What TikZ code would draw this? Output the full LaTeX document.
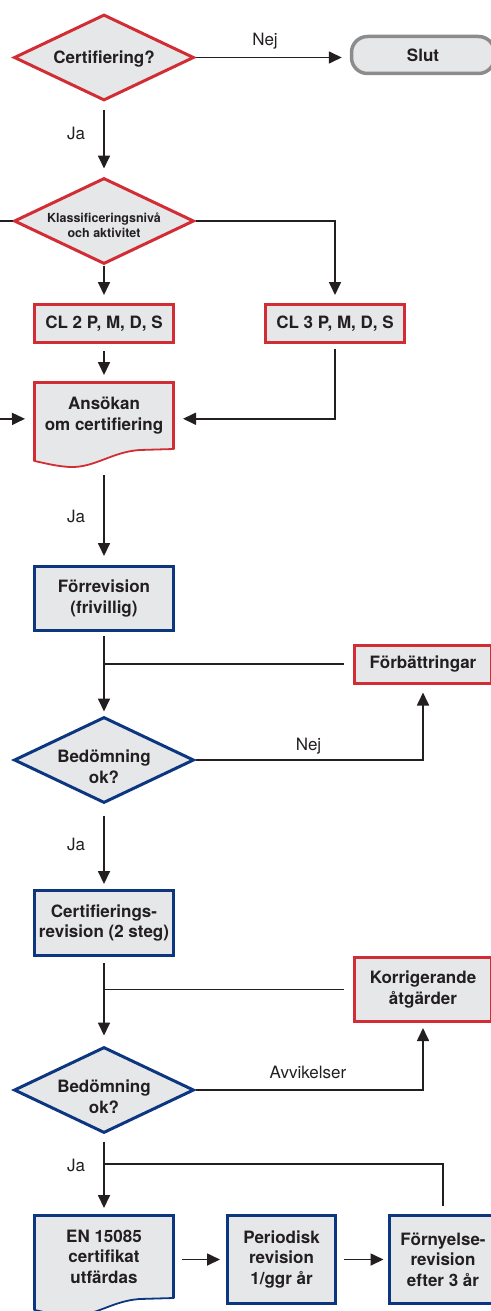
\documentclass[tikz,border=0pt]{standalone}
\usepackage{fontspec}
\setmainfont{TeX Gyre Heros}
\usetikzlibrary{shapes.geometric, arrows.meta, backgrounds}
\definecolor{certred}{RGB}{210,45,52}
\definecolor{certblue}{RGB}{12,55,128}
\definecolor{boxgray}{RGB}{230,231,233}
\definecolor{endgray}{RGB}{140,140,140}
\definecolor{ink}{RGB}{35,31,32}

% document symbol drawn round a named node, wavy bottom
\newcommand{\docshape}[2]{%
  \begin{scope}[on background layer]
    \filldraw[fill=boxgray, draw=#2, line width=1.8pt] (#1.north west) -- (#1.north east) -- (#1.south east)
      -- ([xshift=-34pt,yshift=-1pt]#1.south east)
      .. controls ([xshift=-62pt,yshift=-3pt]#1.south east) and ([xshift=-79pt,yshift=-19pt]#1.south east) .. ([xshift=-104pt,yshift=-18pt]#1.south east)
      .. controls ([xshift=-119pt,yshift=-17pt]#1.south east) and ([xshift=-129pt,yshift=-14pt]#1.south east) .. ([yshift=-12pt]#1.south west) -- cycle;
    \draw[#2, line width=3pt] ([yshift=-12pt]#1.south west) -- (#1.north west) -- (#1.north east) -- (#1.south east);
  \end{scope}}
% text set a little low in the diamonds
\newcommand{\lowtext}[2]{\raisebox{-#1}[\height][\depth]{\begin{tabular}{@{}c@{}}#2\end{tabular}}}

\begin{document}
\begin{tikzpicture}[x=1pt, y=-1pt, line join=miter]
	\tikzset{boxfont/.style={font=\bfseries\fontsize{17}{20.5}\selectfont, text=ink},
		decision/.style={diamond, aspect=2.1, draw=#1, fill=boxgray, line width=3pt, minimum width=180pt, minimum height=86pt, inner sep=0pt, boxfont},
		procbox/.style={rectangle, draw=#1, fill=boxgray, line width=3pt, minimum width=139pt, minimum height=38pt, inner sep=0pt, align=center, boxfont},
		docbox/.style={rectangle, minimum width=139pt, inner sep=0pt, outer sep=0pt, align=center, boxfont},
		endbox/.style={rectangle, rounded corners=16pt, draw=endgray, fill=boxgray, line width=3.5pt, minimum width=143pt, minimum height=37pt, boxfont},
		flow/.style={draw=ink, line width=1.7pt},
		arr/.style={flow, -{Triangle[length=13pt,width=12pt]}},
		answer/.style={font=\fontsize{17}{20.5}\selectfont, text=ink, inner sep=0pt}}
	\useasboundingbox (0,0) rectangle (490,1311);
	% nodes
	\node[decision=certred] (cert) at (104,57.5) {\lowtext{1.5pt}{Certifiering?}};
	\node[endbox] (slut) at (423,55) {Slut};
	\node[decision=certred, font=\bfseries\fontsize{12.5}{15}\selectfont] (klass) at (104,221) {\lowtext{6pt}{Klassificeringsnivå\\och aktivitet}};
	\node[procbox=certred] (cltwo) at (104,323.5) {CL 2 P, M, D, S};
	\node[procbox=certred] (clthree) at (335,323.5) {CL 3 P, M, D, S};
	\node[docbox, minimum height=66.5pt] (ansokan) at (104,415.75) {Ansökan\\om certifiering};
	\docshape{ansokan}{certred}
	\node[procbox=certblue, minimum height=64pt] (forrev) at (104,598.5) {Förrevision\\(frivillig)};
	\node[procbox=certred, minimum width=137pt] (forbatt) at (423,664) {Förbättringar};
	\node[decision=certblue] (bedomA) at (104,760) {\lowtext{9pt}{Bedömning\\ok?}};
	\node[procbox=certblue, minimum height=65pt] (certrev) at (104,923) {Certifierings-\\revision (2 steg)};
	\node[procbox=certred, minimum width=137pt, minimum height=64pt] (korr) at (423,989.5) {Korrigerande\\åtgärder};
	\node[decision=certblue] (bedomB) at (104,1090) {\lowtext{9pt}{Bedömning\\ok?}};
	\node[docbox, minimum height=82.5pt] (encert) at (104,1256.75) {EN 15085\\certifikat\\utfärdas};
	\docshape{encert}{certblue}
	\node[procbox=certblue, minimum width=108pt, minimum height=88pt] (period) at (281.5,1259.5) {Periodisk\\revision\\1/ggr år};
	\node[procbox=certblue, minimum width=108pt, minimum height=88pt] (fornyelse) at (443,1259.5) {Förnyelse-\\revision\\efter 3 år};
	% free ends
	\coordinate (kleft) at (0,221);
	\coordinate (aleft) at (0,419);
	\coordinate (renew) at (104,1164);
	% connectors
	\draw[arr, shorten >=8pt] (cert.east) -- (cert.east -| slut.west);
	\draw[arr, shorten <=8pt, shorten >=8pt] (cert.south) -- (klass.north);
	\draw[flow] (klass.west) -- (kleft);
	\draw[arr, shorten >=8pt] (klass.south) -- (cltwo.north);
	\draw[arr, shorten >=8pt] (klass.east) -| (clthree.north);
	\draw[arr, shorten <=7pt, shorten >=7.5pt] (cltwo.south) -- (ansokan.north);
	\draw[arr, shorten <=5pt, shorten >=9.5pt] (clthree.south) |- ([yshift=-3pt]ansokan.east);
	\draw[arr, shorten >=9.5pt] (aleft) -- ([yshift=-3pt]ansokan.west);
	\draw[arr, shorten <=26pt, shorten >=9pt] (ansokan.south) -- (forrev.north);
	\draw[arr, shorten <=4pt, shorten >=4pt] (forrev.south) -- (bedomA.north);
	\draw[flow, shorten <=9pt] (forbatt.west) -- (forbatt.west -| forrev.south);
	\draw[arr, shorten >=8pt] (bedomA.east) -| (forbatt.south);
	\draw[arr, shorten <=11pt, shorten >=5pt] (bedomA.south) -- (certrev.north);
	\draw[arr, shorten <=6pt, shorten >=10pt] (certrev.south) -- (bedomB.north);
	\draw[flow, shorten <=9pt] (korr.west) -- (korr.west -| certrev.south);
	\draw[arr, shorten >=5pt] (bedomB.east) -| (korr.south);
	\draw[arr, shorten <=7pt, shorten >=7.5pt] (bedomB.south) -- (encert.north);
	\draw[flow, shorten <=8pt] (fornyelse.north) |- (renew);
	\draw[arr, shorten <=8.5pt, shorten >=6pt] (period.west -| encert.east) -- (period.west);
	\draw[arr, shorten <=7pt, shorten >=4pt] (period.east) -- (fornyelse.west);
	% answers
	\node[answer] (nejA) at (265,41) {Nej};
	\node[answer] (jaA) at (76,133.5) {Ja};
	\node[answer] (jaB) at (76,516.5) {Ja};
	\node[answer] (nejB) at (308.5,746) {Nej};
	\node[answer] (jaC) at (76,844) {Ja};
	\node[answer] (avvik) at (308,1072.5) {Avvikelser};
	\node[answer] (jaD) at (76,1165.5) {Ja};
\end{tikzpicture}
\end{document}
